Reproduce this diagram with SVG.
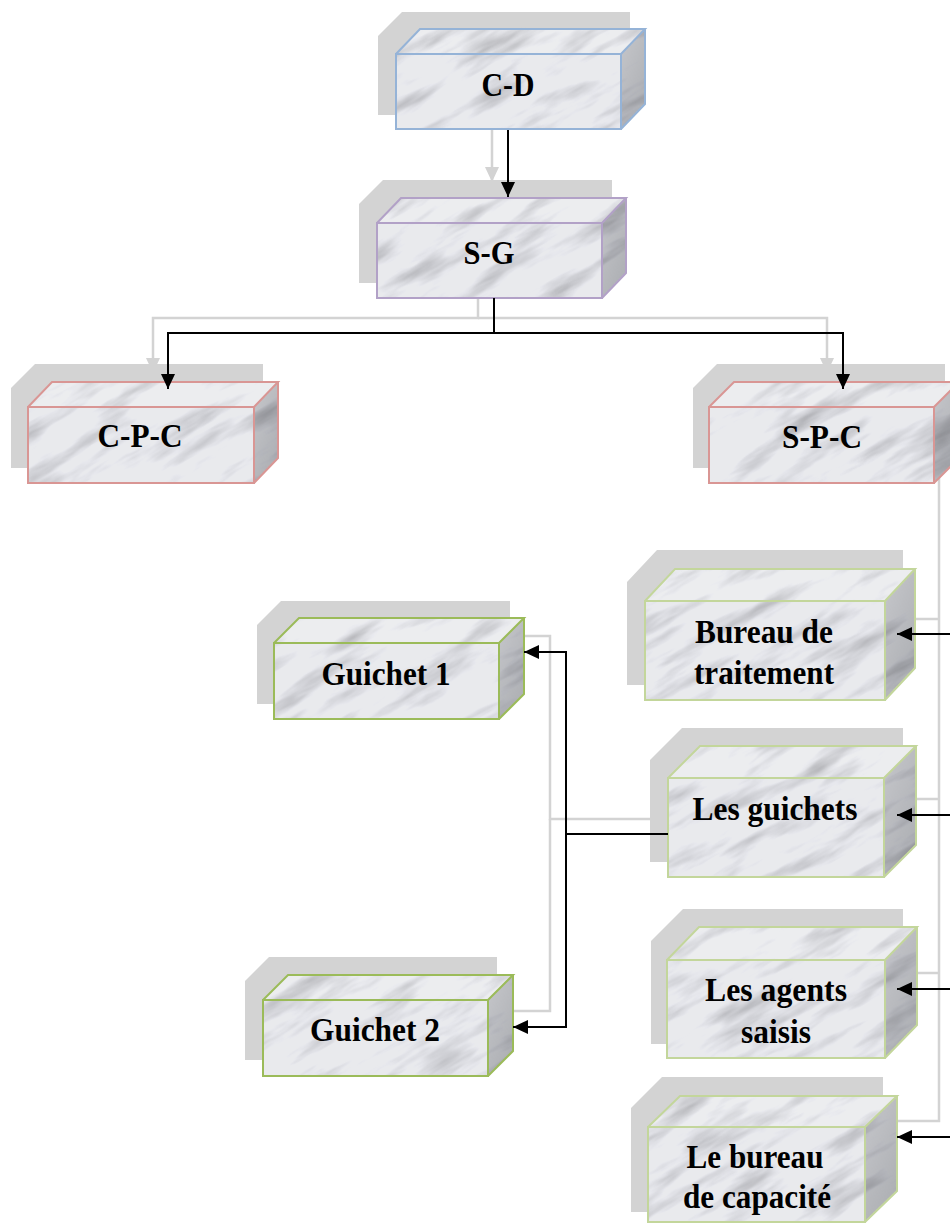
<svg xmlns="http://www.w3.org/2000/svg" width="950" height="1223" viewBox="0 0 950 1223">
  <style>
    .shadow { fill: #d3d3d3; }
    .front { fill: #e9eaed; }
    .top { fill: #ecedef; }
    .side { fill: url(#sideShade); }
    .edge { fill: none; stroke-width: 2; stroke-linejoin: miter; }
    .blue { stroke: #95b3d7; }
    .violet { stroke: #b2a1c7; }
    .rose { stroke: #d99694; }
    .green { stroke: #9bbb59; }
    .lime { stroke: #c3d69b; }
    .label { font-family: "Liberation Serif", "Times New Roman", serif; font-weight: bold; font-size: 34px; fill: #000; text-anchor: middle; }
    .ghost { fill: none; stroke: #d3d3d3; stroke-width: 2.5; }
    .link { fill: none; stroke: #000; stroke-width: 2; }
  </style>
  <defs>
    <linearGradient id="sideShade" x1="0" y1="0" x2="0.6" y2="1">
      <stop offset="0" stop-color="#c6c7cb"/>
      <stop offset="1" stop-color="#aeb0b4"/>
    </linearGradient>
    <!-- veined stone texture multiplied into the faces -->
    <filter id="marble" x="-5%" y="-5%" width="110%" height="110%" color-interpolation-filters="sRGB">
      <feTurbulence type="fractalNoise" baseFrequency="0.011 0.05" numOctaves="4" seed="5" result="noise"/>
      <feColorMatrix in="noise" type="matrix" values="0.55 0 0 0 0.72  0.55 0 0 0 0.72  0.55 0 0 0 0.73  0 0 0 0 1" result="tone"/>
      <feBlend in="SourceGraphic" in2="tone" mode="multiply" result="mix"/>
      <feComposite in="mix" in2="SourceGraphic" operator="in"/>
    </filter>
    <marker id="arrow" markerUnits="userSpaceOnUse" markerWidth="15" markerHeight="14" refX="15" refY="7" orient="auto">
      <path d="M0,0 L15,7 L0,14 Z" fill="#000"/>
    </marker>
    <marker id="arrowGhost" markerUnits="userSpaceOnUse" markerWidth="15" markerHeight="14" refX="15" refY="7" orient="auto">
      <path d="M0,0 L15,7 L0,14 Z" fill="#d3d3d3"/>
    </marker>
  </defs>

  <rect width="950" height="1223" fill="#fff"/>

  <!-- connector shadows, offset up-left -->
  <g id="connector-shadows">
    <path class="ghost" d="M492 113 V182" marker-end="url(#arrowGhost)"/>
    <path class="ghost" d="M478 283 V318 H153 V373" marker-end="url(#arrowGhost)"/>
    <path class="ghost" d="M478 318 H827 V373" marker-end="url(#arrowGhost)"/>
    <path class="ghost" d="M939 468 V1121 H898"/>
    <path class="ghost" d="M939 619 H882" marker-end="url(#arrowGhost)"/>
    <path class="ghost" d="M939 799 H882" marker-end="url(#arrowGhost)"/>
    <path class="ghost" d="M939 973 H882" marker-end="url(#arrowGhost)"/>
    <path class="ghost" d="M652 819 H550 V636 H509" marker-end="url(#arrowGhost)"/>
    <path class="ghost" d="M550 819 V1011 H498" marker-end="url(#arrowGhost)"/>
  </g>

  <!-- C-D -->
  <g id="node-cd">
    <polygon class="shadow" points="378,115 378,36 402,12 630,12 630,90 606,115"/>
    <g transform="rotate(-30)" filter="url(#marble)"><g transform="rotate(30)">
      <polygon class="front" points="396,54 621,54 621,129 396,129"/>
      <polygon class="top" points="396,54 420,29 645,29 621,54"/>
      <polygon class="side" points="621,54 645,29 645,104 621,129"/>
    </g></g>
    <path class="edge blue" d="M396 54 H621 V129 H396 Z M396 54 L420 29 H645 L621 54 M645 29 V104 L621 129"/>
    <text class="label" x="508" y="96" textLength="53" lengthAdjust="spacingAndGlyphs">C-D</text>
  </g>

  <!-- S-G -->
  <g id="node-sg">
    <polygon class="shadow" points="359,283 359,204 383,180 612,180 612,258 588,283"/>
    <g transform="rotate(-30)" filter="url(#marble)"><g transform="rotate(30)">
      <polygon class="front" points="377,223 602,223 602,298 377,298"/>
      <polygon class="top" points="377,223 401,198 626,198 602,223"/>
      <polygon class="side" points="602,223 626,198 626,273 602,298"/>
    </g></g>
    <path class="edge violet" d="M377 223 H602 V298 H377 Z M377 223 L401 198 H626 L602 223 M626 198 V273 L602 298"/>
    <text class="label" x="489" y="264" textLength="51" lengthAdjust="spacingAndGlyphs">S-G</text>
  </g>

  <!-- C-P-C -->
  <g id="node-cpc">
    <polygon class="shadow" points="11,468 11,388 35,364 263,364 263,443 239,468"/>
    <g transform="rotate(-30)" filter="url(#marble)"><g transform="rotate(30)">
      <polygon class="front" points="28,407 254,407 254,483 28,483"/>
      <polygon class="top" points="28,407 52,382 278,382 254,407"/>
      <polygon class="side" points="254,407 278,382 278,458 254,483"/>
    </g></g>
    <path class="edge rose" d="M28 407 H254 V483 H28 Z M28 407 L52 382 H278 L254 407 M278 382 V458 L254 483"/>
    <text class="label" x="140" y="447" textLength="85" lengthAdjust="spacingAndGlyphs">C-P-C</text>
  </g>

  <!-- S-P-C -->
  <g id="node-spc">
    <polygon class="shadow" points="693,468 693,388 717,364 945,364 945,443 920,468"/>
    <g transform="rotate(-30)" filter="url(#marble)"><g transform="rotate(30)">
      <polygon class="front" points="709,407 934,407 934,483 709,483"/>
      <polygon class="top" points="709,407 734,382 959,382 934,407"/>
      <polygon class="side" points="934,407 959,382 959,458 934,483"/>
    </g></g>
    <path class="edge rose" d="M709 407 H934 V483 H709 Z M709 407 L734 382 H959 L934 407 M959 382 V458 L934 483"/>
    <text class="label" x="822" y="448" textLength="80" lengthAdjust="spacingAndGlyphs">S-P-C</text>
  </g>

  <!-- Bureau de traitement -->
  <g id="node-bureau-traitement">
    <polygon class="shadow" points="627,685 627,582 657,550 903,550 903,653 873,685"/>
    <g transform="rotate(-30)" filter="url(#marble)"><g transform="rotate(30)">
      <polygon class="front" points="645,601 885,601 885,700 645,700"/>
      <polygon class="top" points="645,601 675,569 915,569 885,601"/>
      <polygon class="side" points="885,601 915,569 915,668 885,700"/>
    </g></g>
    <path class="edge lime" d="M645 601 H885 V700 H645 Z M645 601 L675 569 H915 L885 601 M915 569 V668 L885 700"/>
    <text class="label" x="764" y="643" textLength="138" lengthAdjust="spacingAndGlyphs">Bureau de</text>
    <text class="label" x="764" y="684" textLength="140" lengthAdjust="spacingAndGlyphs">traitement</text>
  </g>

  <!-- Guichet 1 -->
  <g id="node-guichet-1">
    <polygon class="shadow" points="257,704 257,625 281,601 510,601 510,679 485,704"/>
    <g transform="rotate(-30)" filter="url(#marble)"><g transform="rotate(30)">
      <polygon class="front" points="274,643 499,643 499,719 274,719"/>
      <polygon class="top" points="274,643 299,618 524,618 499,643"/>
      <polygon class="side" points="499,643 524,618 524,694 499,719"/>
    </g></g>
    <path class="edge green" d="M274 643 H499 V719 H274 Z M274 643 L299 618 H524 L499 643 M524 618 V694 L499 719"/>
    <text class="label" x="386" y="685" textLength="129" lengthAdjust="spacingAndGlyphs">Guichet 1</text>
  </g>

  <!-- Les guichets -->
  <g id="node-les-guichets">
    <polygon class="shadow" points="650,862 650,760 682,728 903,728 903,830 871,862"/>
    <g transform="rotate(-30)" filter="url(#marble)"><g transform="rotate(30)">
      <polygon class="front" points="668,778 884,778 884,877 668,877"/>
      <polygon class="top" points="668,778 700,746 916,746 884,778"/>
      <polygon class="side" points="884,778 916,746 916,845 884,877"/>
    </g></g>
    <path class="edge lime" d="M668 778 H884 V877 H668 Z M668 778 L700 746 H916 L884 778 M916 746 V845 L884 877"/>
    <text class="label" x="775" y="820" textLength="165" lengthAdjust="spacingAndGlyphs">Les guichets</text>
  </g>

  <!-- Les agents saisis -->
  <g id="node-agents-saisis">
    <polygon class="shadow" points="651,1044 651,941 683,909 903,909 903,1012 871,1044"/>
    <g transform="rotate(-30)" filter="url(#marble)"><g transform="rotate(30)">
      <polygon class="front" points="667,960 885,960 885,1058 667,1058"/>
      <polygon class="top" points="667,960 699,927 917,927 885,960"/>
      <polygon class="side" points="885,960 917,927 917,1025 885,1058"/>
    </g></g>
    <path class="edge lime" d="M667 960 H885 V1058 H667 Z M667 960 L699 927 H917 L885 960 M917 927 V1025 L885 1058"/>
    <text class="label" x="776" y="1001" textLength="142" lengthAdjust="spacingAndGlyphs">Les agents</text>
    <text class="label" x="776" y="1043" textLength="70" lengthAdjust="spacingAndGlyphs">saisis</text>
  </g>

  <!-- Le bureau de capacité -->
  <g id="node-bureau-capacite">
    <polygon class="shadow" points="631,1212 631,1108 662,1077 883,1077 883,1181 852,1212"/>
    <g transform="rotate(-30)" filter="url(#marble)"><g transform="rotate(30)">
      <polygon class="front" points="648,1127 865,1127 865,1222 648,1222"/>
      <polygon class="top" points="648,1127 680,1096 897,1096 865,1127"/>
      <polygon class="side" points="865,1127 897,1096 897,1191 865,1222"/>
    </g></g>
    <path class="edge lime" d="M648 1127 H865 V1222 H648 Z M648 1127 L680 1096 H897 L865 1127 M897 1096 V1191 L865 1222"/>
    <text class="label" x="755" y="1168" textLength="137" lengthAdjust="spacingAndGlyphs">Le bureau</text>
    <text class="label" x="757" y="1208" textLength="148" lengthAdjust="spacingAndGlyphs">de capacité</text>
  </g>

  <!-- Guichet 2 -->
  <g id="node-guichet-2">
    <polygon class="shadow" points="245,1060 245,981 269,957 497,957 497,1035 472,1060"/>
    <g transform="rotate(-30)" filter="url(#marble)"><g transform="rotate(30)">
      <polygon class="front" points="263,1000 488,1000 488,1076 263,1076"/>
      <polygon class="top" points="263,1000 288,975 513,975 488,1000"/>
      <polygon class="side" points="488,1000 513,975 513,1051 488,1076"/>
    </g></g>
    <path class="edge green" d="M263 1000 H488 V1076 H263 Z M263 1000 L288 975 H513 L488 1000 M513 975 V1051 L488 1076"/>
    <text class="label" x="375" y="1041" textLength="130" lengthAdjust="spacingAndGlyphs">Guichet 2</text>
  </g>

  <!-- connectors -->
  <g id="connectors">
    <path class="link" d="M508 130 V197" marker-end="url(#arrow)"/>
    <path class="link" d="M494 298 V333 H168 V389" marker-end="url(#arrow)"/>
    <path class="link" d="M494 333 H843 V389" marker-end="url(#arrow)"/>
    <path class="link" d="M956 470 V1137"/>
    <path class="link" d="M956 634 H897" marker-end="url(#arrow)"/>
    <path class="link" d="M956 815 H897" marker-end="url(#arrow)"/>
    <path class="link" d="M956 989 H897" marker-end="url(#arrow)"/>
    <path class="link" d="M956 1137 H897" marker-end="url(#arrow)"/>
    <path class="link" d="M668 834 H566 V652 H524" marker-end="url(#arrow)"/>
    <path class="link" d="M566 834 V1027 H513" marker-end="url(#arrow)"/>
  </g>
</svg>
